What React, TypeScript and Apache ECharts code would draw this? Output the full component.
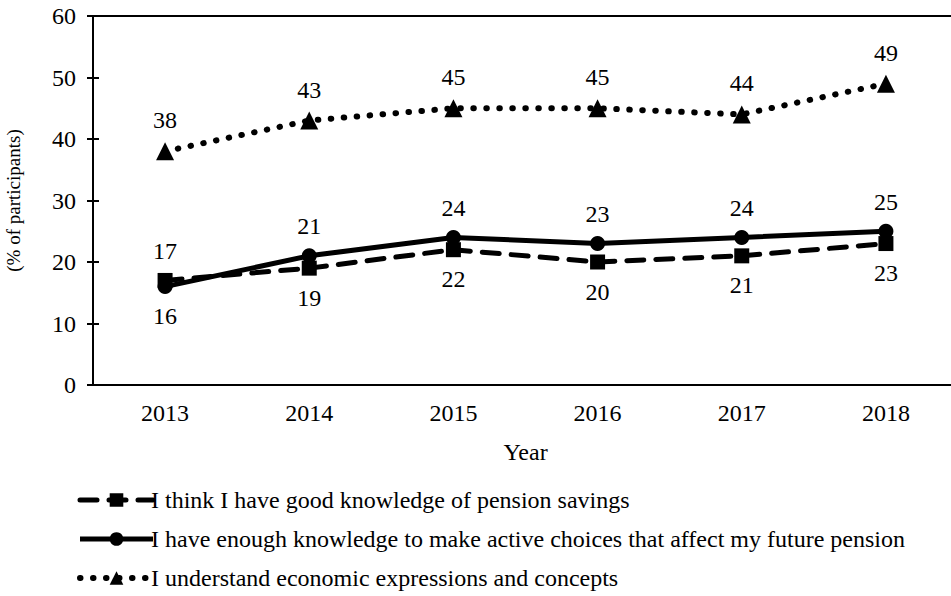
import React, { useEffect, useRef } from "react";
import * as echarts from "echarts";

const years = ["2013", "2014", "2015", "2016", "2017", "2018"];
const seriesNames = [
  "I think I have good knowledge of pension savings",
  "I have enough knowledge to make active choices that affect my future pension",
  "I understand economic expressions and concepts",
];
const goodKnowledge = [17, 19, 22, 20, 21, 23];
const activeChoices = [16, 21, 24, 23, 24, 25];
const economicConcepts = [38, 43, 45, 45, 44, 49];
// label placement per point (above / below)
const goodKnowledgePos = ["top", "bottom", "bottom", "bottom", "bottom", "bottom"];
const activeChoicesPos = ["bottom", "top", "top", "top", "top", "top"];

const FONT = "Liberation Serif";

const dashedStyle = { color: "#000", width: 5, type: [17, 12], cap: "round" };
const solidStyle = { color: "#000", width: 5 };
const dottedStyle = { color: "#000", width: 6, type: [0.5, 12.5], cap: "round" };

export default function App() {
  const ref = useRef<HTMLDivElement>(null);
  useEffect(() => {
    if (!ref.current) return;
    const chart = echarts.init(ref.current, undefined, { renderer: "svg" });
    const lbl = { fontFamily: FONT, fontSize: 24, color: "#000" };
    const mk = (vals: number[], pos: string[] | null) =>
      vals.map((v, i) => ({
        value: v,
        label: { position: pos ? pos[i] : "top" },
      }));
    chart.setOption({
      animation: false,
      textStyle: { fontFamily: FONT, color: "#000" },
      grid: {
        left: 93,
        top: 16,
        bottom: 211,
        width: 865,
        outerBoundsMode: "none",
        containLabel: false,
        show: false,
      },
      legend: {
        orient: "vertical",
        left: 72,
        top: 483,
        itemWidth: 73,
        itemHeight: 17,
        itemGap: 15,
        textStyle: { fontFamily: FONT, fontSize: 24, color: "#000", padding: [0, 0, 0, -7] },
        data: [
          { name: seriesNames[0], lineStyle: dashedStyle },
          { name: seriesNames[1], lineStyle: solidStyle },
          { name: seriesNames[2], lineStyle: dottedStyle },
        ],
      },
      xAxis: [
        {
          type: "category",
          data: years,
          boundaryGap: true,
          axisLine: { lineStyle: { color: "#000", width: 2 } },
          axisTick: { alignWithLabel: true, length: 5, lineStyle: { color: "#000", width: 2 } },
          axisLabel: { fontFamily: FONT, fontSize: 24, color: "#000", margin: 16 },
          name: "Year",
          nameLocation: "middle",
          nameGap: 55,
          nameTextStyle: { fontFamily: FONT, fontSize: 24, color: "#000" },
        },
        {
          type: "category",
          data: years,
          position: "bottom",
          boundaryGap: true,
          axisLine: { show: false },
          axisTick: { inside: true, alignWithLabel: true, length: 5, lineStyle: { color: "#000", width: 2 } },
          axisLabel: { show: false },
        },
        {
          type: "category",
          data: years,
          position: "top",
          boundaryGap: true,
          axisLine: { show: true, lineStyle: { color: "#000", width: 2 } },
          axisTick: { show: false },
          axisLabel: { show: false },
        },
      ],
      yAxis: [
        {
          type: "value",
          min: 0,
          max: 60,
          interval: 10,
          splitLine: { show: false },
          axisLine: { show: true, lineStyle: { color: "#000", width: 2 } },
          axisTick: { show: true, length: 6, lineStyle: { color: "#000", width: 2 } },
          axisLabel: { fontFamily: FONT, fontSize: 24, color: "#000", margin: 17 },
          name: "(% of participants)",
          nameLocation: "middle",
          nameGap: 70,
          nameTextStyle: { fontFamily: FONT, fontSize: 19, color: "#000" },
        },
        {
          type: "value",
          min: 0,
          max: 60,
          interval: 10,
          position: "left",
          splitLine: { show: false },
          axisLine: { show: false },
          axisTick: { show: true, inside: true, length: 6, lineStyle: { color: "#000", width: 2 } },
          axisLabel: { show: false },
        },
      ],
      series: [
        {
          name: seriesNames[0],
          type: "line",
          data: mk(goodKnowledge, goodKnowledgePos),
          symbol: "rect",
          symbolSize: 15,
          itemStyle: { color: "#000" },
          lineStyle: dashedStyle,
          label: { show: true, distance: 10, ...lbl },
          z: 3,
        },
        {
          name: seriesNames[1],
          type: "line",
          data: mk(activeChoices, activeChoicesPos),
          symbol: "circle",
          symbolSize: 15,
          itemStyle: { color: "#000" },
          lineStyle: solidStyle,
          label: { show: true, distance: 10, ...lbl },
          z: 4,
        },
        {
          name: seriesNames[2],
          type: "line",
          data: mk(economicConcepts, null),
          symbol: "triangle",
          symbolSize: 18,
          itemStyle: { color: "#000" },
          lineStyle: dottedStyle,
          label: { show: true, distance: 10, ...lbl },
          z: 3,
        },
      ],
    });
    return () => chart.dispose();
  }, []);
  return (
    <div
      ref={ref}
      style={{ position: "fixed", left: 0, top: 0, width: 951, height: 596, background: "#fff" }}
    />
  );
}
